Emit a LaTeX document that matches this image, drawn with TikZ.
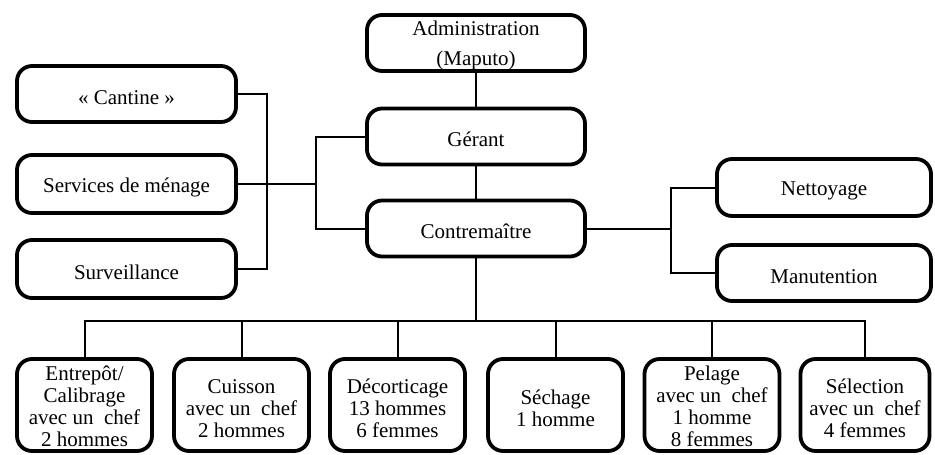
\documentclass[tikz,border=0pt]{standalone}
\usepackage{fontspec}
\setmainfont{Liberation Serif}
\newcommand{\liftline}{\rule{0pt}{21pt}}
\newcommand{\liftsmall}{\rule{0pt}{17pt}}
\begin{document}
\begin{tikzpicture}[x=1pt,y=-1pt,
  box/.style={draw=black, line width=3.8pt, rounded corners=15pt, align=center,
    inner sep=0pt, font=\fontsize{21}{22}\selectfont,
    execute at begin node={\liftline}},
  wide/.style={box, minimum width=218pt, minimum height=56pt},
  side/.style={box, minimum width=219pt, minimum height=56pt},
  unit/.style={box, minimum width=135pt, minimum height=92pt},
  conn/.style={draw=black, line width=2pt}]
\useasboundingbox (0,0) rectangle (935,455);
% central column
\node[wide, text height=50pt, text depth=6pt] (admin) at (476,43) {Administration\\[8pt](Maputo)};
\node[wide] (gerant) at (476,136.5) {Gérant};
\node[wide] (contre) at (476,228.5) {Contremaître};
% left side
\node[side] (cantine) at (126.5,94) {«~Cantine~»};
\node[side, minimum height=58pt] (menage) at (126.5,184) {Services de ménage};
\node[side, minimum height=58pt] (surv) at (126.5,269) {Surveillance};
% right side
\node[box, minimum width=214pt, minimum height=57pt] (nett) at (824,187.5) {Nettoyage};
\node[box, minimum width=214pt, minimum height=56pt] (manut) at (824,273) {Manutention};
% bottom units
\node[unit] (entrepot) at (84.5,405) {\liftsmall Entrepôt/\\Calibrage\\avec un~ chef\\2 hommes};
\node[unit] (cuisson) at (241.5,405) {\liftline Cuisson\\avec un~ chef\\2 hommes};
\node[unit] (decort) at (397.5,405) {\liftline Décorticage\\13 hommes\\6 femmes};
\node[unit] (sechage) at (555.5,405) {\liftline Séchage\\1 homme};
\node[unit] (pelage) at (712,405) {\liftsmall Pelage\\avec un~ chef\\1 homme\\8 femmes};
\node[box, minimum width=129pt, minimum height=92pt] (selection) at (865,405) {\liftline Sélection\\avec un~ chef\\4 femmes};
% junction coordinates
\coordinate (gc) at (316,184);
\coordinate (lb) at (267,184);
\coordinate (rb) at (671,228.5);
\coordinate (bus) at (476,321);
% connectors
\draw[conn] (admin.south) -- (gerant.north);
\draw[conn] (gerant.south) -- (contre.north);
\draw[conn] (gerant.west) -| (gc) |- (contre.west);
\draw[conn] (menage.east) -- (gc);
\draw[conn] (cantine.east) -| (lb) |- (surv.east);
\draw[conn] (contre.east) -- (rb);
\draw[conn] (nett.west) -| (rb) |- (manut.west);
\draw[conn] (contre.south) -- (bus);
\foreach \b in {entrepot,cuisson,decort,sechage,pelage,selection}
  \draw[conn] (\b.north) |- (bus);
\end{tikzpicture}
\end{document}
